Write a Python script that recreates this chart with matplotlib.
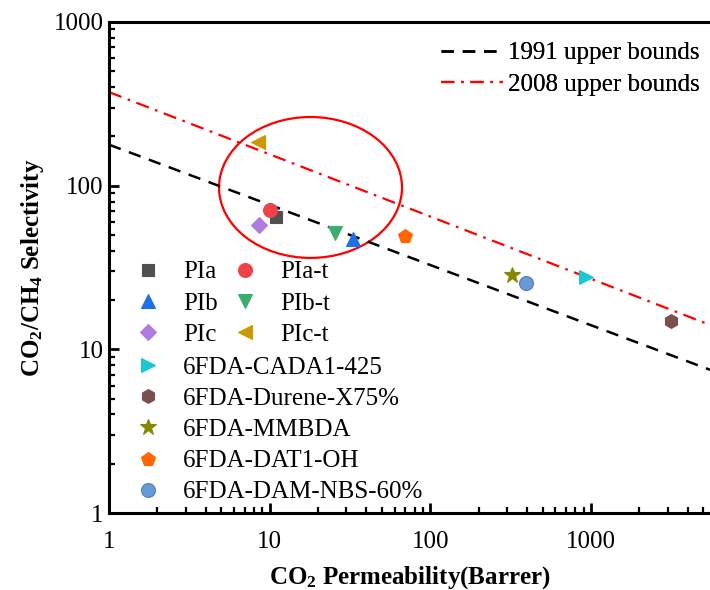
import matplotlib
matplotlib.use("Agg")
import matplotlib.pyplot as plt
from matplotlib.patches import Ellipse
from matplotlib.ticker import LogLocator, NullFormatter, FixedLocator, FixedFormatter

plt.rcParams['font.family'] = ['Liberation Serif', 'DejaVu Serif']
plt.rcParams['mathtext.fontset'] = 'custom'
plt.rcParams['mathtext.rm'] = 'Liberation Serif'
plt.rcParams['mathtext.bf'] = 'Liberation Serif:bold'
plt.rcParams['mathtext.it'] = 'Liberation Serif:italic'

# ---- data ----
labels = ['PIa', 'PIb', 'PIc', 'PIa-t', 'PIb-t', 'PIc-t',
          '6FDA-CADA1-425', '6FDA-Durene-X75%', '6FDA-MMBDA',
          '6FDA-DAT1-OH', '6FDA-DAM-NBS-60%']
perm = [11.0, 32.8, 8.6, 10.1, 25.4, 8.5, 925, 3157, 324, 69.3, 396]
selec = [64.6, 47.0, 57.5, 71.0, 51.2, 185, 27.8, 14.9, 28.4, 49.2, 25.5]
markers = ['s', '^', 'D', 'o', 'v', '<', '>', 'h', '*', 'p', 'o']
colors = ['#505050', '#1F6FE5', '#B07BE0', '#EE4447', '#3AAE6E', '#CC9900',
          '#1CC8D0', '#7A4F4F', '#888800', '#FF6600', '#6A9AD5']
sizes = [9, 10, 8, 10, 10, 10, 10, 10, 12, 10, 10]

bound1991_x = [1, 5500]
bound1991_y = [178, 7.5]
bound2008_x = [1, 5500]
bound2008_y = [373, 14.1]

xticks = [1, 10, 100, 1000]
yticks = [1, 10, 100, 1000]

W, H = 710, 590
fig = plt.figure(figsize=(W / 100, H / 100), dpi=100)
ax = fig.add_axes([109 / W, 77 / H, (W - 109) / W, 491 / H])
ax.set_xscale('log')
ax.set_yscale('log')
ax.set_xlim(1, 5500)
ax.set_ylim(1, 1000)

l1, = ax.plot(bound1991_x, bound1991_y, color='black', lw=1.8,
              dashes=(5, 3.5), label='1991 upper bounds')
l2, = ax.plot(bound2008_x, bound2008_y, color='#FF0000', lw=1.6,
              dashes=(6, 3, 1.2, 3), label='2008 upper bounds')

handles = []
for i in range(len(labels)):
    mec = colors[i]
    if i == 10:
        mec = '#4F7FB8'
    h, = ax.plot([perm[i]], [selec[i]], linestyle='none', marker=markers[i],
                 ms=sizes[i], color=colors[i], mec=mec, mew=0.8, label=labels[i])
    handles.append(h)

ell = Ellipse((0.3353, 0.663), 0.3045, 0.287, transform=ax.transAxes,
              fill=False, edgecolor='#FF0000', lw=1.6)
ax.add_patch(ell)

for s in ['left', 'bottom', 'top']:
    ax.spines[s].set_linewidth(2.2)
ax.spines['right'].set_visible(False)

ax.xaxis.set_major_locator(FixedLocator(xticks))
ax.xaxis.set_major_formatter(FixedFormatter([str(v) for v in xticks]))
ax.yaxis.set_major_locator(FixedLocator(yticks))
ax.yaxis.set_major_formatter(FixedFormatter([str(v) for v in yticks]))
ax.xaxis.set_minor_locator(LogLocator(base=10, subs=range(2, 10)))
ax.yaxis.set_minor_locator(LogLocator(base=10, subs=range(2, 10)))
ax.xaxis.set_minor_formatter(NullFormatter())
ax.yaxis.set_minor_formatter(NullFormatter())
ax.tick_params(which='major', direction='in', length=7, width=2, labelsize=18,
               top=False, right=False)
ax.tick_params(axis='x', which='major', pad=13)
ax.tick_params(axis='y', which='major', pad=4)
ax.tick_params(which='minor', direction='in', length=4, width=1.6,
               top=False, right=False)

ax.set_xlabel(r'$\mathbf{CO_2\ Permeability(Barrer)}$', fontsize=18, labelpad=8)
ax.set_ylabel(r'$\mathbf{CO_2/CH_4\ Selectivity}$', fontsize=18, labelpad=5)

leg1 = ax.legend(handles=[l1, l2], loc='upper right', frameon=False, fontsize=18,
                 bbox_to_anchor=(1.0, 1 - 10 / 491), handlelength=2.5,
                 handletextpad=0.2, labelspacing=0.35, borderaxespad=0)
ax.add_artist(leg1)

fs = 18
leg2 = fig.legend(handles=handles[:6], ncol=2, frameon=False, fontsize=fs,
                  loc='upper left', bbox_to_anchor=(135.5 / W, 1 - 261 / H),
                  handlelength=1.0, handletextpad=0.9, columnspacing=0.6,
                  labelspacing=0.35, borderpad=0, borderaxespad=0, numpoints=1)
leg3 = fig.legend(handles=handles[6:], ncol=1, frameon=False, fontsize=fs,
                  loc='upper left', bbox_to_anchor=(135.5 / W, 1 - 356 / H),
                  handlelength=1.0, handletextpad=0.9,
                  labelspacing=0.35, borderpad=0, borderaxespad=0, numpoints=1)

fig.savefig('out.png', dpi=100)
